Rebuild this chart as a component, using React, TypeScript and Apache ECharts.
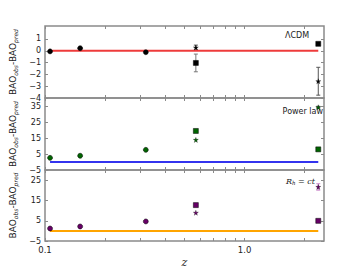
import React, { useEffect, useRef } from 'react';
import * as echarts from 'echarts';

// redshifts
const zCircles = [0.106, 0.15, 0.32];
const zExtra = [0.57, 2.34];
const zLine = [0.106, 2.34];

// x ticks
const xMajorTicks = [0.1, 1];
const xAllTicks = [0.1, 0.2, 0.3, 0.4, 0.5, 0.6, 0.7, 0.8, 0.9, 1, 2];

// Panel 1: LCDM
const lcdmCircles = [-0.05, 0.22, -0.12];
const lcdmSquares = [-1.03, 0.59];
const lcdmSquareErr = [0.75, 0];
const lcdmStars = [0.28, -2.58];
const lcdmStarErr = [0.2, 1.18];
const lcdmTicks = [-4, -3, -2, -1, 0, 1];

// Panel 2: Power law
const plCircles = [2.6, 3.9, 7.6];
const plSquares = [19.4, 7.9];
const plSquareErr = [0, 0];
const plStars = [13.8, 34.2];
const plStarErr = [0, 0.6];
const plTicks = [-5, 5, 15, 25, 35];

// Panel 3: Rh = ct
const rhCircles = [1.2, 2.2, 4.7];
const rhSquares = [12.8, 5.0];
const rhSquareErr = [0, 0];
const rhStars = [9.0, 21.8];
const rhStarErr = [0, 1.6];
const rhTicks = [-5, 5, 15, 25];

const STAR = 'path://M50,0 L61,35 L98,35 L68,57 L79,91 L50,70 L21,91 L32,57 L2,35 L39,35 Z';

const panels = [
  { circles: lcdmCircles, squares: lcdmSquares, sqErr: lcdmSquareErr, stars: lcdmStars, stErr: lcdmStarErr, ticks: lcdmTicks, min: -4, max: 2.1, color: '#000000', line: '#ee3b3b', err: '#777777', stErrColor: '#555555' },
  { circles: plCircles, squares: plSquares, sqErr: plSquareErr, stars: plStars, stErr: plStarErr, ticks: plTicks, min: -5, max: 40, color: '#006400', line: '#3333ee', err: '#777777', stErrColor: '#555555' },
  { circles: rhCircles, squares: rhSquares, sqErr: rhSquareErr, stars: rhStars, stErr: rhStarErr, ticks: rhTicks, min: -5, max: 30.2, color: '#660066', line: '#ffa500', err: '#777777', stErrColor: '#cc88cc' },
];

const FRAME = '#8a8a8a';
const minus = (v: number) => String(v).replace('-', '\u2212');

function errorBarSeries(xs: number[], ys: number[], es: number[], color: string, idx: number) {
  const data = xs.map((x, i) => [x, ys[i], es[i]]).filter((d) => d[2] > 0);
  return {
    type: 'custom',
    xAxisIndex: idx * 2,
    yAxisIndex: idx * 2,
    data,
    encode: { x: 0, y: 1 },
    z: 1,
    renderItem: (params: any, api: any) => {
      const x = api.value(0);
      const y = api.value(1);
      const e = api.value(2);
      const top = api.coord([x, y + e]);
      const bot = api.coord([x, y - e]);
      const cap = 2;
      const style = { stroke: color, lineWidth: 1 };
      return {
        type: 'group',
        children: [
          { type: 'line', shape: { x1: top[0], y1: top[1], x2: bot[0], y2: bot[1] }, style },
          { type: 'line', shape: { x1: top[0] - cap, y1: top[1], x2: top[0] + cap, y2: top[1] }, style },
          { type: 'line', shape: { x1: bot[0] - cap, y1: bot[1], x2: bot[0] + cap, y2: bot[1] }, style },
        ],
      };
    },
  };
}

export default function App() {
  const ref = useRef<HTMLDivElement>(null);
  useEffect(() => {
    document.body.style.margin = '0';
    if (!ref.current) return;
    const chart = echarts.init(ref.current, undefined, { renderer: 'svg' });
    const tops = [26, 98, 170];
    const heights = [72, 72, 71];
    const grids = panels.map((_, i) => ({
      left: 45, right: 36, top: tops[i], height: heights[i],
      show: true, borderColor: FRAME, borderWidth: 1.5, backgroundColor: 'transparent',
    }));
    const xAxes: any[] = [];
    const yAxes: any[] = [];
    const series: any[] = [];
    panels.forEach((p, i) => {
      const last = i === panels.length - 1;
      const baseX = {
        type: 'log', logBase: 10, min: 0.1, max: 2.5, gridIndex: i,
        axisLine: { show: false, onZero: false }, splitLine: { show: false },
        axisTick: { show: true, inside: true, length: 3, customValues: xAllTicks, lineStyle: { color: FRAME, width: 1 } },
      };
      xAxes.push({
        ...baseX, position: 'bottom',
        axisLabel: {
          show: last, customValues: xMajorTicks, margin: 4, color: '#222', fontSize: 8.5, fontFamily: 'DejaVu Sans',
          formatter: (v: number) => (v < 0.5 ? '0.1' : '1.0'),
        },
        name: last ? 'z' : '', nameLocation: 'middle', nameGap: 16,
        nameTextStyle: { fontFamily: 'DejaVu Serif', fontStyle: 'italic', fontSize: 11, color: '#222' },
      });
      xAxes.push({ ...baseX, position: 'top', axisLabel: { show: false } });
      const baseY = {
        type: 'value', min: p.min, max: p.max, gridIndex: i,
        axisLine: { show: false, onZero: false }, splitLine: { show: false },
        axisTick: { show: true, inside: true, length: 3, customValues: p.ticks, lineStyle: { color: FRAME, width: 1 } },
      };
      yAxes.push({
        ...baseY, position: 'left',
        axisLabel: { customValues: p.ticks, margin: 4, color: '#222', fontSize: 8, fontFamily: 'DejaVu Sans', formatter: minus },
        name: '{b|BAO}{s|obs}{b|-BAO}{s|pred}', nameLocation: 'middle', nameGap: 18, nameRotate: 90,
        nameTextStyle: {
          color: '#222',
          rich: {
            b: { fontSize: 9, fontFamily: 'DejaVu Sans', color: '#222' },
            s: { fontSize: 6, fontFamily: 'DejaVu Sans', fontStyle: 'italic', color: '#222', padding: [5, 0, 0, 0] },
          },
        },
      });
      yAxes.push({ ...baseY, position: 'right', axisLabel: { show: false } });

      series.push({
        type: 'line', xAxisIndex: i * 2, yAxisIndex: i * 2, data: zLine.map((z) => [z, 0]),
        symbol: 'none', lineStyle: { color: p.line, width: 2 }, z: 2,
      });
      series.push(errorBarSeries(zExtra, p.squares, p.sqErr, p.err, i));
      series.push(errorBarSeries(zExtra, p.stars, p.stErr, p.stErrColor, i));
      series.push({
        type: 'scatter', xAxisIndex: i * 2, yAxisIndex: i * 2, data: zCircles.map((z, k) => [z, p.circles[k]]),
        symbol: 'circle', symbolSize: 5, itemStyle: { color: p.color, borderColor: '#000', borderWidth: 0.5, opacity: 1 }, z: 3,
      });
      series.push({
        type: 'scatter', xAxisIndex: i * 2, yAxisIndex: i * 2, data: zExtra.map((z, k) => [z, p.squares[k]]),
        symbol: 'rect', symbolSize: 5, itemStyle: { color: p.color, borderColor: '#000', borderWidth: 0.5, opacity: 1 }, z: 3,
      });
      series.push({
        type: 'scatter', xAxisIndex: i * 2, yAxisIndex: i * 2, data: zExtra.map((z, k) => [z, p.stars[k]]),
        symbol: STAR, symbolSize: 5, itemStyle: { color: p.color, borderColor: '#000', borderWidth: 0.3, opacity: 1 }, z: 3,
      });
    });

    chart.setOption({
      animation: false,
      backgroundColor: '#ffffff',
      grid: grids,
      xAxis: xAxes,
      yAxis: yAxes,
      series,
      graphic: [
        { type: 'text', left: 285, top: 31, style: { text: '\u039bCDM', fontSize: 8, fontFamily: 'DejaVu Sans', fill: '#222' } },
        { type: 'text', right: 37, top: 107, style: { text: 'Power law', fontSize: 8, fontFamily: 'DejaVu Sans', fill: '#222' } },
        {
          type: 'text', left: 286, top: 177,
          style: {
            text: '{i|R}{s|h}{n| = }{i|ct}',
            rich: {
              i: { fontSize: 8, fontFamily: 'DejaVu Serif', fontStyle: 'italic', fill: '#222' },
              s: { fontSize: 5.5, fontFamily: 'DejaVu Serif', fontStyle: 'italic', fill: '#222', padding: [4, 0, 0, 0] },
              n: { fontSize: 8, fontFamily: 'DejaVu Serif', fill: '#222' },
            },
          },
        },
      ],
    });
    return () => chart.dispose();
  }, []);
  return <div ref={ref} style={{ position: 'absolute', left: 0, top: 0, width: 360, height: 270 }} />;
}
